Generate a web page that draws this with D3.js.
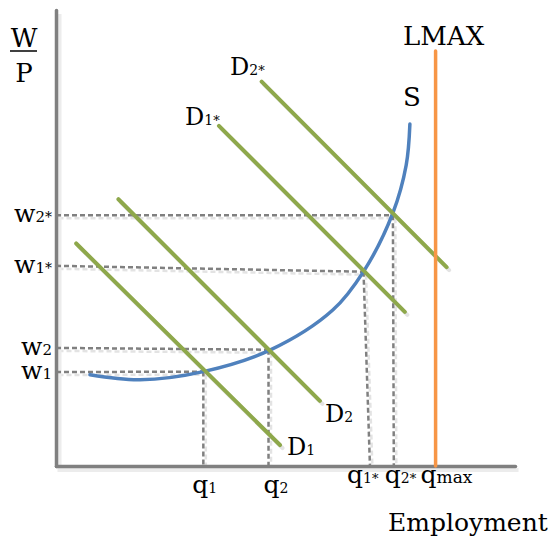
<!DOCTYPE html>
<html>
<head>
<meta charset="utf-8">
<script src="https://cdn.jsdelivr.net/npm/d3@7"></script>
<style>
body { margin: 0; background: #fff; }
text { font-family: "DejaVu Serif", serif; fill: #000; }
</style>
</head>
<body>
<svg id="chart" width="551" height="539"></svg>
<script>
// demand curves (employment, real wage) start -> end
var demandNames = ["D1", "D2", "D1*", "D2*"];
var demandX0 = [4.4, 13.6, 35.5, 44.8];
var demandY0 = [48.8, 58.5, 74.6, 84.3];
var demandX1 = [48.8, 57.5, 76.0, 85.1];
var demandY1 = [4.6, 14.3, 33.8, 43.6];

// labour supply S
var supplyX = [7.4, 18.3, 32.1, 46.6, 60.3, 67.1, 73.4, 76.3, 77.1];
var supplyY = [20.0, 18.9, 20.7, 25.4, 34.2, 42.8, 55.5, 66.0, 75.0];

// equilibria and where the guide lines meet the axes
var wageLabels = ["w1", "w2", "w1*", "w2*"];
var qLabels = ["q1", "q2", "q1*", "q2*"];
var eqX = [32.1, 46.3, 67.0, 73.4];
var eqY = [20.7, 25.5, 42.6, 55.0];
var wageAxisY = [20.6, 25.9, 43.9, 55.0];
var qAxisX = [32.1, 46.3, 68.4, 73.6];
var qMax = 82.7;
var lMaxTop = 91.0;

var svg = d3.select("#chart");
var x = d3.scaleLinear().domain([0, 100]).range([56, 515]);
var y = d3.scaleLinear().domain([0, 100]).range([466, 10]);

var green = "#8ea84b", blue = "#4f81bd", orange = "#f79646",
    gray = "#808080", shadow = "#e3e3e3";

var guides = [];
eqX.forEach(function(ex, i) {
    guides.push([[0, wageAxisY[i]], [ex, eqY[i]]]);
    guides.push([[ex, eqY[i]], [qAxisX[i], 0]]);
});
var demands = demandNames.map(function(n, i) {
    return [[demandX0[i], demandY0[i]], [demandX1[i], demandY1[i]]];
});

var line = d3.line()
    .x(function(d) { return x(d[0]); })
    .y(function(d) { return y(d[1]); });

/**
 * shadows
 */
var sh = svg.append("g").attr("transform", "translate(2.5,3)");
sh.selectAll(".gs").data(guides).enter()
    .append("path")
    .attr("d", line)
    .attr("fill", "none")
    .attr("stroke", shadow)
    .attr("stroke-width", 2.5)
    .attr("stroke-dasharray", "5,3");
sh.selectAll(".ds").data(demands).enter()
    .append("path")
    .attr("d", line)
    .attr("stroke", shadow)
    .attr("stroke-width", 4)
    .attr("stroke-linecap", "round");

var axSh = svg.append("g").attr("transform", "translate(3.5,4)");
axSh.append("path")
    .attr("d", line([[0, 100], [0, 0], [100, 0]]))
    .attr("fill", "none")
    .attr("stroke", "#ececec")
    .attr("stroke-width", 4);

/**
 * dashed guide lines
 */
svg.selectAll(".guide").data(guides).enter()
    .append("path")
    .attr("class", "guide")
    .attr("d", line)
    .attr("fill", "none")
    .attr("stroke", gray)
    .attr("stroke-width", 2.5)
    .attr("stroke-dasharray", "5,3");

/**
 * axes
 */
svg.append("g")
    .attr("transform", "translate(0," + y(0) + ")")
    .call(d3.axisBottom(x).tickValues([]).tickSizeOuter(0));
svg.append("g")
    .attr("transform", "translate(" + x(0) + ",0)")
    .call(d3.axisLeft(y).tickValues([]).tickSizeOuter(0));
svg.selectAll(".domain")
    .attr("stroke", gray)
    .attr("stroke-width", 3.5)
    .attr("stroke-linecap", "round");

/**
 * supply, demand, LMAX
 */
var smooth = d3.line()
    .x(function(d) { return x(d[0]); })
    .y(function(d) { return y(d[1]); })
    .curve(d3.curveCatmullRom.alpha(0.5));

svg.append("path")
    .datum(supplyX.map(function(v, i) { return [v, supplyY[i]]; }))
    .attr("d", smooth)
    .attr("fill", "none")
    .attr("stroke", blue)
    .attr("stroke-width", 3.5)
    .attr("stroke-linecap", "round");

svg.selectAll(".demand").data(demands).enter()
    .append("path")
    .attr("class", "demand")
    .attr("d", line)
    .attr("stroke", green)
    .attr("stroke-width", 4)
    .attr("stroke-linecap", "round");

svg.append("path")
    .attr("d", line([[qMax, lMaxTop], [qMax, 0]]))
    .attr("stroke", orange)
    .attr("stroke-width", 3.5)
    .attr("stroke-linecap", "round");

/**
 * Labels
 */
function label(px, py, txt, size, subSize, anchor) {
    var t = svg.append("text")
        .attr("x", px)
        .attr("y", py)
        .attr("text-anchor", anchor || "start")
        .style("font-size", size + "px");
    var main = txt.charAt(0);
    var rest = txt.slice(1);
    var star = rest.indexOf("*") >= 0;
    rest = rest.replace("*", "");
    t.append("tspan").text(main);
    if (rest) {
        t.append("tspan").style("font-size", subSize + "px").text(rest);
    }
    if (star) {
        t.append("tspan").style("font-size", (subSize - 1) + "px").text("*");
    }
    return t;
}

wageLabels.forEach(function(w, i) {
    label(52, y(wageAxisY[i]) + 7, w, 25, 15, "end");
});

var qDx = [-11, -5, -23, -9];
var qDy = [27, 27, 17, 17];
qLabels.forEach(function(q, i) {
    label(x(qAxisX[i]) + qDx[i], y(0) + qDy[i], q, 25, 14);
});
label(x(qMax) - 15, y(0) + 17, "qmax", 25, 17);

label(287, 455, "D1", 24, 14);
label(325, 422, "D2", 24, 14);
label(185, 125, "D1*", 24, 14);
label(230, 75, "D2*", 24, 14);

svg.append("text").attr("x", 403).attr("y", 45)
    .style("font-size", "26px").text("LMAX");
svg.append("text").attr("x", 403).attr("y", 106)
    .style("font-size", "26px").text("S");
svg.append("text").attr("x", 388).attr("y", 531)
    .style("font-size", "25px").text("Employment");

// W over P
svg.append("text").attr("x", 24).attr("y", 47)
    .attr("text-anchor", "middle")
    .style("font-size", "26px").text("W");
svg.append("line")
    .attr("x1", 10).attr("x2", 37)
    .attr("y1", 51).attr("y2", 51)
    .attr("stroke", "#000")
    .attr("stroke-width", 1.5);
svg.append("text").attr("x", 24).attr("y", 82)
    .attr("text-anchor", "middle")
    .style("font-size", "26px").text("P");
</script>
</body>
</html>
